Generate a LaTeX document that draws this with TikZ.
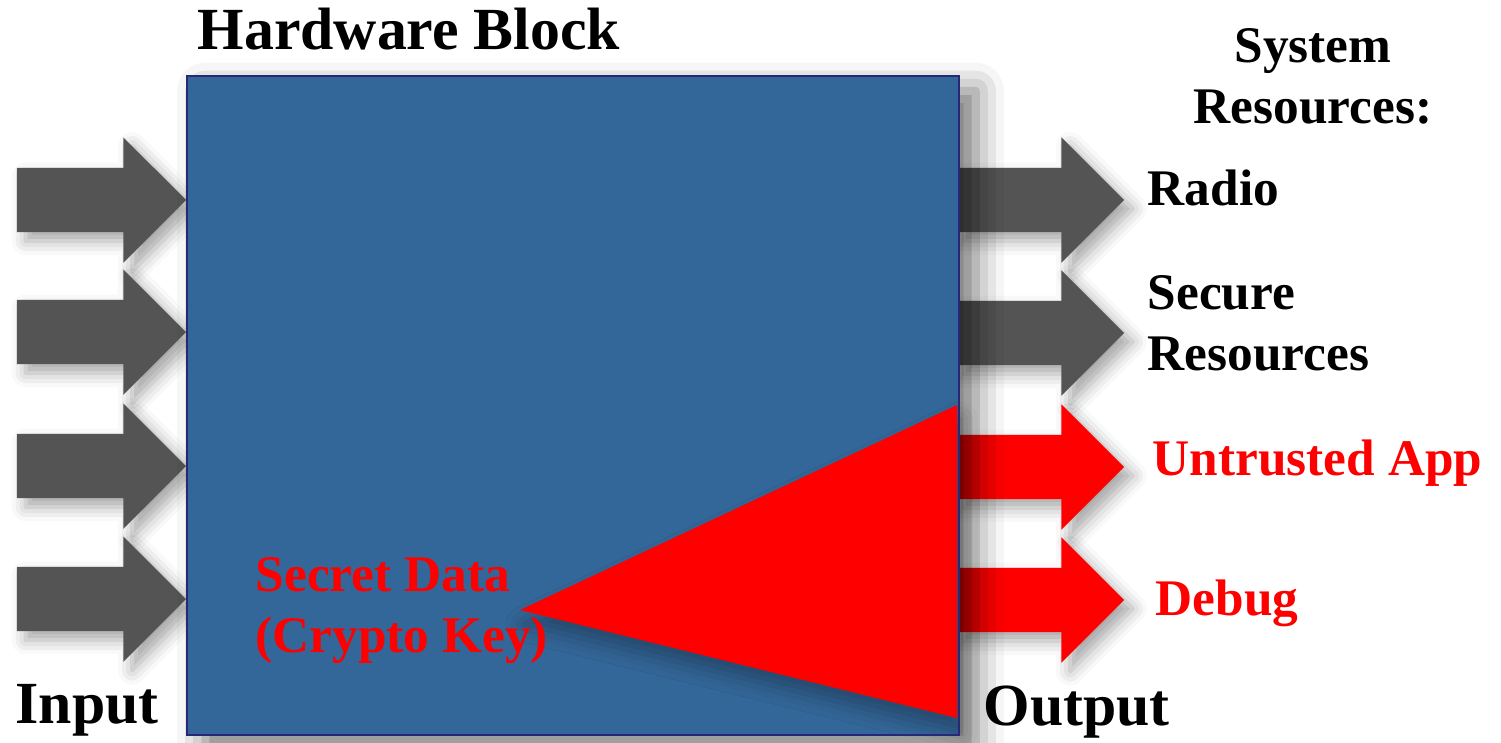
\documentclass[tikz,border=0pt]{standalone}
\usepackage{fontspec}
\setmainfont{Liberation Serif}
\usetikzlibrary{shapes.arrows,shadows.blur}

\definecolor{hwblue}{RGB}{52,103,153}
\definecolor{hwedge}{RGB}{40,40,120}
\definecolor{pipegray}{RGB}{84,84,84}
\definecolor{leakred}{RGB}{255,0,0}

\tikzset{
  pipe/.style={single arrow, draw=none, fill=#1,
    inner xsep=0pt, inner ysep=0.315cm,
    minimum height=1.69cm, minimum width=1.24cm,
    single arrow head extend=0.305cm, anchor=tip,
    blur shadow={shadow xshift=2.5pt, shadow yshift=-2.5pt,
      shadow blur radius=4pt, shadow opacity=35}},
  hwblock/.style={fill=hwblue, inner sep=0pt, anchor=north west,
    minimum width=7.7cm, minimum height=6.57cm,
    blur shadow={shadow xshift=5pt, shadow yshift=-4pt,
      shadow blur radius=8pt, shadow opacity=55}},
  bigtxt/.style={font=\fontsize{17}{21}\selectfont\bfseries, inner sep=0pt},
  smalltxt/.style={font=\fontsize{14.6}{17.2}\selectfont\bfseries, inner sep=0pt}
}

\begin{document}
\begin{tikzpicture}[x=0.01cm,y=-0.01cm]
\useasboundingbox (0,0) rectangle (1501,742);
% outputs go first, the block's shadow falls on them
\node[pipe=pipegray] (out1) at (1125,200) {};
\node[pipe=pipegray] (out2) at (1125,333) {};
\node[pipe=leakred] (out3) at (1125,467) {};
\node[pipe=leakred] (out4) at (1125,600) {};
% inputs
\foreach \y [count=\i] in {200,332,466,599}
  \node[pipe=pipegray] (in\i) at (187,\y) {};
% the block itself
\node[hwblock] (hw) at (187,76) {};
\fill[leakred, blur shadow={shadow xshift=1pt, shadow yshift=-4pt,
  shadow blur radius=5pt, shadow opacity=30}]
  (520,610) -- (957,405) -- (957,718) -- cycle;
\draw[hwedge, line width=0.6pt] (hw.north west) rectangle (hw.south east);
% labels (base of a two line node = its last line)
\node[bigtxt, anchor=base west] (title) at (197,49) {Hardware Block};
\node[bigtxt, anchor=base west] (inlbl) at (15,723) {Input};
\node[bigtxt, anchor=base west] (outlbl) at (983,725) {Output};
\node[smalltxt, align=center, anchor=base] (sys) at (1313,123) {System\\Resources:};
\node[smalltxt, anchor=base west] (radio) at (1147,205) {Radio};
\node[smalltxt, align=left, anchor=base west] (secure) at (1147,370) {Secure\\Resources};
\node[smalltxt, text=leakred, anchor=base west] (app) at (1152,475) {Untrusted App};
\node[smalltxt, text=leakred, anchor=base west] (debug) at (1155,615) {Debug};
\node[smalltxt, text=leakred, align=left, anchor=base west] (key) at (255,652) {Secret Data\\(Crypto Key)};
\end{tikzpicture}
\end{document}
